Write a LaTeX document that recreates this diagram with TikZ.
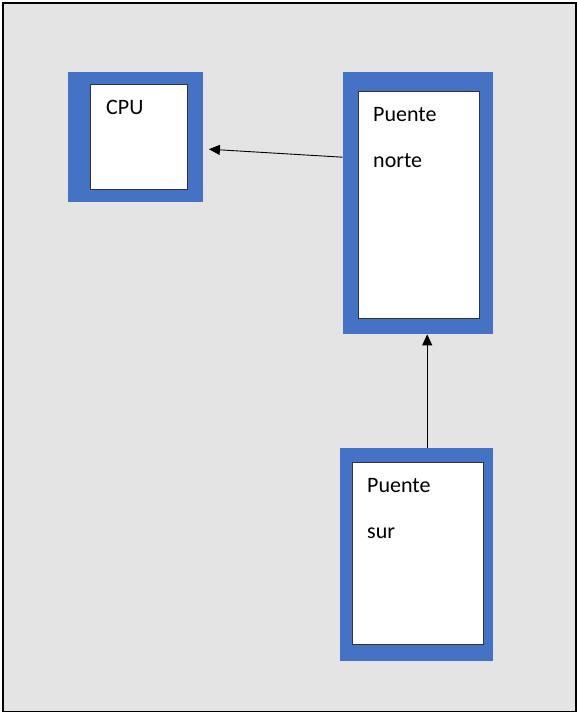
\documentclass[tikz,border=0pt]{standalone}
\usepackage{fontspec}
\setmainfont{Carlito}
\usetikzlibrary{arrows.meta}
\definecolor{boxblue}{HTML}{4472C4}
\definecolor{bggray}{HTML}{E4E4E4}
\definecolor{edgegray}{HTML}{333333}
\begin{document}
\begin{tikzpicture}[x=1pt,y=-1pt,
  bluebox/.style={rectangle,fill=boxblue,draw=none,inner sep=0pt,anchor=north west},
  whitebox/.style={rectangle,fill=white,draw=edgegray,line width=1.2pt,inner sep=0pt,anchor=north west},
  lbl/.style={anchor=base west,inner sep=0pt,font=\fontsize{22}{26}\selectfont},
  conn/.style={line width=0.9pt,-{Triangle[length=11pt,width=10pt]}}]
\useasboundingbox (0,0) rectangle (576,712);
\node[rectangle,fill=bggray,draw=black,line width=2pt,inner sep=0pt,anchor=north west,minimum width=573pt,minimum height=709pt] (frame) at (1.5,1.5) {};
% CPU
\node[bluebox,minimum width=135pt,minimum height=130pt] (cpu) at (67.5,72) {};
\node[whitebox,minimum width=97pt,minimum height=105pt] (cpuin) at (90,84) {};
\node[lbl] (cputxt) at (106,114) {CPU};
% Puente norte
\node[bluebox,minimum width=150pt,minimum height=262pt] (nb) at (342.5,72) {};
\node[whitebox,minimum width=121pt,minimum height=227pt] (nbin) at (358,91) {};
\node[lbl] (nt1) at (373,121) {Puente};
\node[lbl] (nt2) at (373,167) {norte};
% Puente sur
\node[bluebox,minimum width=153pt,minimum height=213pt] (sb) at (340,448) {};
\node[whitebox,minimum width=131pt,minimum height=182pt] (sbin) at (352,462) {};
\node[lbl] (st1) at (367,492) {Puente};
\node[lbl] (st2) at (367,538) {sur};
% connectors
\draw[conn] ([yshift=46pt]nb.west) -- ([xshift=6pt,yshift=-12pt]cpu.east);
\draw[conn] ([xshift=10.5pt]sb.north) -- ([xshift=9.5pt]nb.south);
\end{tikzpicture}
\end{document}
